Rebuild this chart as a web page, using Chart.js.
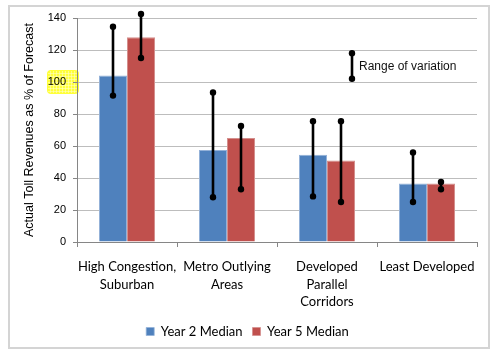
<!DOCTYPE html>
<html>
<head>
<meta charset="utf-8">
<script src="https://cdn.jsdelivr.net/npm/chart.js@4/dist/chart.umd.min.js"></script>
<style>
html,body{margin:0;padding:0;background:#fff;}
#wrap{width:493px;height:355px;position:relative;}
</style>
</head>
<body>
<div id="wrap"><canvas id="c" width="493" height="355"></canvas></div>
<script>
const categories = [["High Congestion,", "Suburban"], ["Metro Outlying", "Areas"], ["Developed", "Parallel", "Corridors"], ["Least Developed"]];
const seriesNames = ["Year 2 Median", "Year 5 Median"];
const year2Median = [104, 57.5, 54.5, 36.5];
const year5Median = [128, 65, 51, 36.5];
const year2Low = [91.5, 28, 28.5, 25];
const year2High = [134.5, 93.5, 75.5, 56];
const year5Low = [115, 33, 25, 33];
const year5High = [142.5, 72.5, 75.5, 37.5];
const yTicks = [0, 20, 40, 60, 80, 100, 120, 140];
const highlightedTick = 100;
const keyRange = { category: 2.25, low: 102, high: 118, label: "Range of variation" };

const ranges = [[year2Low, year2High], [year5Low, year5High]];

const framePlugin = {
  id: 'frame',
  beforeDraw(chart) {
    const ctx = chart.ctx;
    ctx.save();
    ctx.fillStyle = '#ffffff';
    ctx.fillRect(0, 0, chart.width, chart.height);
    ctx.strokeStyle = '#d4d4d4';
    ctx.lineWidth = 2;
    ctx.strokeRect(9, 6, 480, 342);
    // yellow highlight behind tick label
    const y = chart.scales.y;
    const py = y.getPixelForValue(highlightedTick);
    const x0 = 47, w = 32, h = 24;
    ctx.fillStyle = '#ffff3a';
    ctx.beginPath();
    if (ctx.roundRect) ctx.roundRect(x0, py - h / 2, w, h, 4); else ctx.rect(x0, py - h / 2, w, h);
    ctx.fill();
    ctx.strokeStyle = 'rgba(255,255,200,0.55)';
    ctx.lineWidth = 1;
    for (let gx = x0 + 3; gx < x0 + w; gx += 3) { ctx.beginPath(); ctx.moveTo(gx + 0.5, py - h / 2 + 1); ctx.lineTo(gx + 0.5, py + h / 2 - 1); ctx.stroke(); }
    for (let gy = py - h / 2 + 3; gy < py + h / 2; gy += 3) { ctx.beginPath(); ctx.moveTo(x0 + 1, gy + 0.5); ctx.lineTo(x0 + w - 1, gy + 0.5); ctx.stroke(); }
    ctx.restore();
  }
};

function drawRange(ctx, x, yLo, yHi) {
  ctx.beginPath();
  ctx.moveTo(x, yLo);
  ctx.lineTo(x, yHi);
  ctx.stroke();
  for (const yy of [yLo, yHi]) {
    ctx.beginPath();
    ctx.arc(x, yy, 3.2, 0, Math.PI * 2);
    ctx.fill();
  }
}

const rangePlugin = {
  id: 'ranges',
  afterDatasetsDraw(chart) {
    const ctx = chart.ctx;
    const ys = chart.scales.y, xs = chart.scales.x;
    ctx.save();
    ctx.strokeStyle = '#000';
    ctx.fillStyle = '#000';
    ctx.lineWidth = 2.6;
    ranges.forEach((pair, di) => {
      const meta = chart.getDatasetMeta(di);
      meta.data.forEach((bar, i) => {
        drawRange(ctx, bar.x, ys.getPixelForValue(pair[0][i]), ys.getPixelForValue(pair[1][i]));
      });
    });
    const kx = xs.getPixelForValue(keyRange.category);
    drawRange(ctx, kx, ys.getPixelForValue(keyRange.low), ys.getPixelForValue(keyRange.high));
    ctx.font = '12px "Liberation Sans", Arial, sans-serif';
    ctx.textBaseline = 'middle';
    ctx.fillStyle = '#111';
    ctx.fillText(keyRange.label, kx + 7, ys.getPixelForValue((keyRange.low + keyRange.high) / 2) + 0.5);
    ctx.restore();
  }
};

new Chart(document.getElementById('c'), {
  type: 'bar',
  data: {
    labels: categories,
    datasets: [
      { label: seriesNames[0], data: year2Median, backgroundColor: '#4f81bd', borderColor: '#93b1d8', borderWidth: {top: 1, left: 1, right: 1, bottom: 0}, categoryPercentage: 0.56, barPercentage: 1.0 },
      { label: seriesNames[1], data: year5Median, backgroundColor: '#c0504d', borderColor: '#d48f8d', borderWidth: {top: 1, left: 1, right: 1, bottom: 0}, categoryPercentage: 0.56, barPercentage: 1.0 }
    ]
  },
  options: {
    responsive: false,
    animation: false,
    devicePixelRatio: 1,
    layout: { padding: { left: 18, right: 16, top: 18, bottom: 7 } },
    plugins: {
      legend: {
        position: 'bottom',
        labels: {
          boxWidth: 8, boxHeight: 8, padding: 10, color: '#000',
          font: { family: 'Lato, "Open Sans", sans-serif', size: 13 }
        }
      },
      tooltip: { enabled: false }
    },
    scales: {
      x: {
        grid: { drawOnChartArea: false, drawTicks: true, tickLength: 5, color: '#868686' },
        border: { color: '#868686', width: 1 },
        ticks: { color: '#000', padding: 11, maxRotation: 0, autoSkip: false, font: { family: 'Lato, "Open Sans", sans-serif', size: 13, lineHeight: 1.35 } },
        afterFit(scale) { scale.height = 73; }
      },
      y: {
        min: 0, max: 140,
        afterBuildTicks(scale) { scale.ticks = yTicks.map(v => ({ value: v })); },
        grid: { color: '#bdbdbd', tickLength: 4, tickColor: '#868686' },
        border: { color: '#868686', width: 1 },
        ticks: { color: '#000', padding: 7, font: { family: '"Liberation Sans", Arial, sans-serif', size: 11 } },
        title: { display: true, text: 'Actual Toll Revenues as % of Forecast', color: '#000', font: { family: '"Liberation Sans", Arial, sans-serif', size: 12.5 }, padding: { top: 4, bottom: 4 } },
        afterFit(scale) { scale.width = 59; }
      }
    }
  },
  plugins: [framePlugin, rangePlugin]
});
</script>
</body>
</html>
